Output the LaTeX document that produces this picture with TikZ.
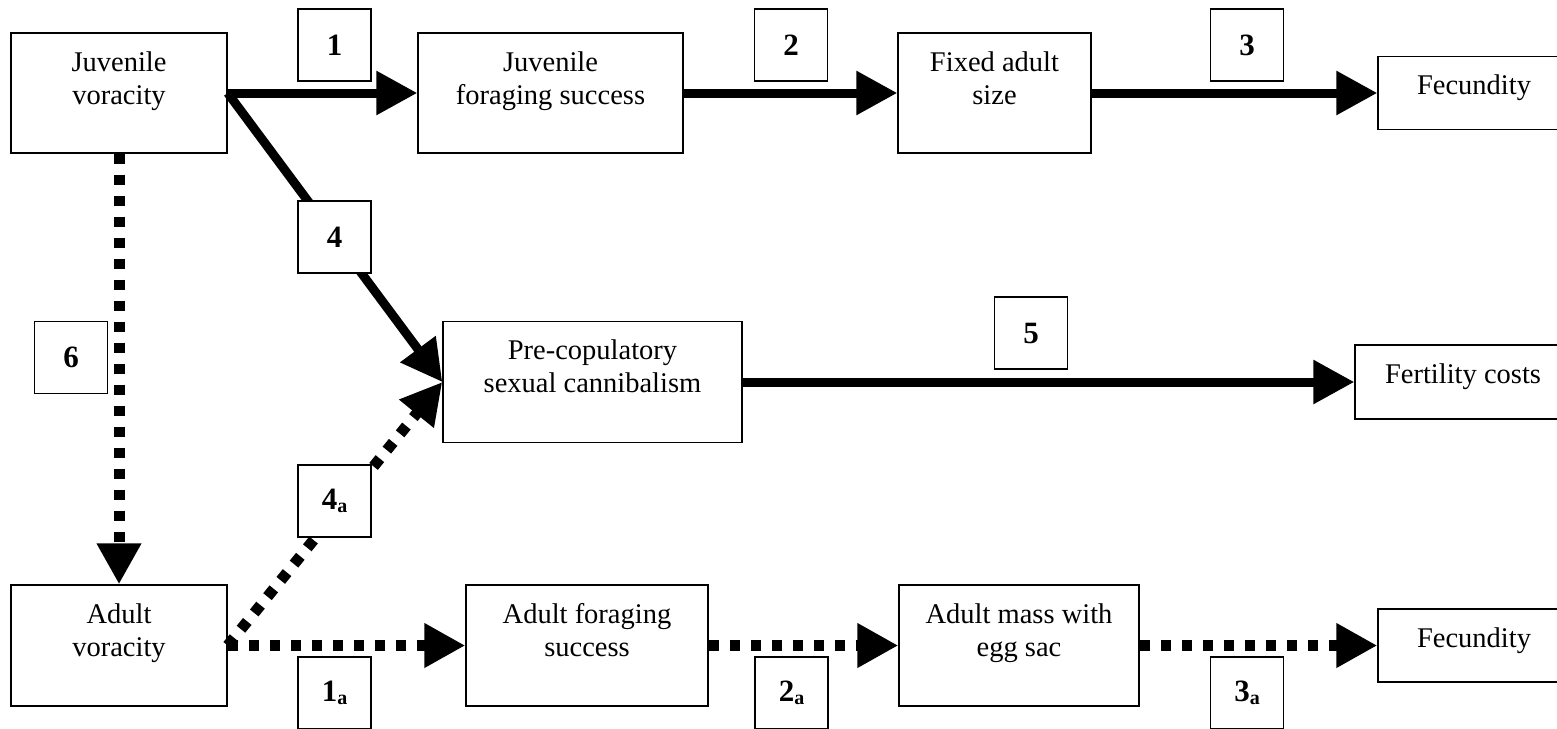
\documentclass[tikz,border=0pt]{standalone}
\usepackage{fontspec}
\setmainfont{Liberation Serif}
\usetikzlibrary{arrows.meta}
\tikzset{
  box/.style={draw=black, line width=1.4pt, fill=white, rectangle, inner sep=0pt},
  txt/.style={anchor=north, yshift=-19pt, align=center, inner sep=0pt,
              font=\fontsize{28.5}{33}\selectfont},
  numbox/.style={draw=black, line width=1.4pt, fill=white, rectangle, inner sep=0pt,
                 minimum width=73pt, minimum height=72pt,
                 font=\fontsize{31}{31}\selectfont\bfseries},
  solidarrow/.style={line width=9pt, -{Triangle[length=41pt,width=42pt]}},
  dotarrow/.style={line width=11pt, line cap=butt, dash pattern=on 10pt off 11pt,
                   -{Triangle[length=41pt,width=42pt]}},
}
\newcommand{\subA}[1]{#1\raisebox{-3pt}{\fontsize{20}{20}\selectfont a}}
\begin{document}
\begin{tikzpicture}[x=1pt,y=-1pt]
\useasboundingbox (0,0) rectangle (1557,728);
\fill[white] (0,0) rectangle (1557,728);
\clip (0,0) rectangle (1557,728);

% main boxes
\node[box, minimum width=216pt, minimum height=120pt] (jv) at (119,93) {};
\node[txt] (jvt) at (jv.north) {Juvenile\\voracity};
\node[box, minimum width=265pt, minimum height=120pt] (jfs) at (550.5,93) {};
\node[txt] (jfst) at (jfs.north) {Juvenile\\foraging success};
\node[box, minimum width=193pt, minimum height=120pt] (fas) at (994.5,93) {};
\node[txt] (fast) at (fas.north) {Fixed adult\\size};
\node[box, minimum width=192pt, minimum height=73pt] (fec1) at (1474,93) {};
\node[txt] (fec1t) at (fec1.north) {Fecundity};

\node[box, minimum width=299pt, minimum height=121pt] (pre) at (592.5,382) {};
\node[txt] (pret) at (pre.north) {Pre-copulatory\\sexual cannibalism};
\node[box, minimum width=216pt, minimum height=74pt] (fert) at (1463,382) {};
\node[txt] (fertt) at (fert.north) {Fertility costs};

\node[box, minimum width=216pt, minimum height=121pt] (av) at (119,645.5) {};
\node[txt] (avt) at (av.north) {Adult\\voracity};
\node[box, minimum width=242pt, minimum height=121pt] (afs) at (587,645.5) {};
\node[txt] (afst) at (afs.north) {Adult foraging\\success};
\node[box, minimum width=240pt, minimum height=121pt] (ams) at (1019,645.5) {};
\node[txt] (amst) at (ams.north) {Adult mass with\\egg sac};
\node[box, minimum width=192pt, minimum height=73pt] (fec2) at (1474,645.5) {};
\node[txt] (fec2t) at (fec2.north) {Fecundity};

% connectors
\draw[solidarrow] (jv.east) -- (jfs.west);
\draw[solidarrow] (jfs.east) -- (fas.west);
\draw[solidarrow] (fas.east) -- (fec1.west);
\draw[solidarrow] (jv.east) -- (pre.west);
\draw[solidarrow] (pre.east) -- (fert.west);
\draw[dotarrow] (jv.south) -- (av.north);
\draw[dotarrow] (av.east) -- (pre.west);
\draw[dotarrow] (av.east) -- (afs.west);
\draw[dotarrow] (afs.east) -- (ams.west);
\draw[dotarrow] (ams.east) -- (fec2.west);

% numbered labels
\node[numbox] (n1) at (334.5,45) {1};
\node[numbox] (n2) at (791,45) {2};
\node[numbox] (n3) at (1247,45) {3};
\node[numbox] (n4) at (334.5,237) {4};
\node[numbox] (n5) at (1031,333) {5};
\node[numbox] (n6) at (71,357.5) {6};
\node[numbox] (n4a) at (334.5,501) {\subA{4}};
\node[numbox] (n1a) at (334.5,693) {\subA{1}};
\node[numbox] (n2a) at (791.5,693) {\subA{2}};
\node[numbox] (n3a) at (1247,693) {\subA{3}};
\end{tikzpicture}
\end{document}
